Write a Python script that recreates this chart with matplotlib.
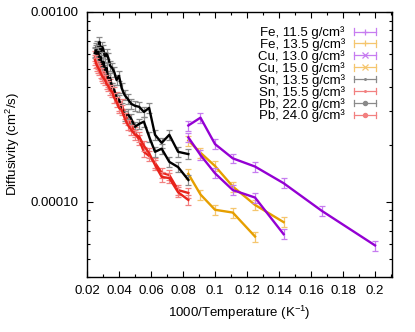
"""
Diffusivity vs inverse temperature for Fe, Cu, Sn and Pb at several densities.
Thick lines are the fitted values, the pale bars are the uncertainties.
"""

import numpy as np
import matplotlib
matplotlib.use("Agg")
import matplotlib.pyplot as plt
from matplotlib.lines import Line2D
from matplotlib.legend_handler import HandlerBase
from matplotlib.ticker import FixedLocator, LogLocator, FormatStrFormatter, NullFormatter

plt.rcParams["font.family"] = ["Liberation Sans", "DejaVu Sans"]
plt.rcParams["mathtext.fontset"] = "custom"
plt.rcParams["mathtext.rm"] = "Liberation Sans"
plt.rcParams["mathtext.it"] = "Liberation Sans:italic"
plt.rcParams["mathtext.default"] = "regular"
plt.rcParams["font.size"] = 9.5

# temperatures in K, diffusivities in cm^2/s
T_FE_115 = [12000, 11000, 10000, 9000, 8000, 7000, 6000, 5000]
D_FE_115 = [2.52e-4, 2.77e-4, 2.01e-4, 1.69e-4, 1.53e-4, 1.25e-4, 8.94e-5, 5.87e-5]

T_FE_135 = [12000, 11000, 10000, 9000, 8000, 7000]
D_FE_135 = [2.10e-4, 1.81e-4, 1.54e-4, 1.20e-4, 9.6e-5, 7.79e-5]

T_CU_130 = [12000, 11000, 10000, 9000, 8000, 7000]
D_CU_130 = [2.18e-4, 1.76e-4, 1.41e-4, 1.15e-4, 1.05e-4, 6.73e-5]

T_CU_150 = [12000, 11000, 10000, 9000, 8000]
D_CU_150 = [1.40e-4, 1.09e-4, 9.05e-5, 8.75e-5, 6.54e-5]

# Sn and Pb share the same temperature grid
T_HOT = [12000, 13000, 14000, 15000, 16000, 17000, 18000, 19000, 20000, 21000,
         22000, 23000, 24000, 25000, 26000, 27000, 28000, 29000, 30000, 31000,
         32000, 33000, 34000, 35000, 36000, 37000, 38000, 39000, 40000]
D_SN_135 = [1.78e-4, 1.83e-4, 2.25e-4, 2.04e-4, 2.25e-4, 3.12e-4, 2.97e-4, 3.16e-4, 3.20e-4, 3.28e-4,
            3.48e-4, 3.65e-4, 3.97e-4, 4.60e-4, 4.38e-4, 4.82e-4, 5.07e-4, 5.20e-4, 5.72e-4, 6.00e-4,
            5.79e-4, 6.30e-4, 6.54e-4, 6.07e-4, 6.95e-4, 6.30e-4, 6.62e-4, 6.46e-4, 6.15e-4]
D_SN_155 = [1.11e-4, 1.15e-4, 1.38e-4, 1.42e-4, 1.60e-4, 1.74e-4, 1.83e-4, 2.11e-4, 2.33e-4, 2.51e-4,
            2.70e-4, 2.90e-4, 3.28e-4, 3.20e-4, 3.56e-4, 3.79e-4, 3.97e-4, 4.17e-4, 4.27e-4, 4.49e-4,
            4.60e-4, 4.82e-4, 4.71e-4, 5.13e-4, 5.07e-4, 5.32e-4, 5.45e-4, 5.72e-4, 5.86e-4]
D_PB_220 = [1.30e-4, 1.52e-4, 1.62e-4, 1.90e-4, 1.83e-4, 2.20e-4, 2.64e-4, 2.57e-4, 2.48e-4, 2.73e-4,
            2.90e-4, 2.83e-4, 3.12e-4, 3.44e-4, 3.52e-4, 3.88e-4, 3.97e-4, 4.49e-4, 4.38e-4, 5.07e-4,
            4.94e-4, 5.45e-4, 5.20e-4, 5.79e-4, 5.58e-4, 6.15e-4, 5.93e-4, 6.30e-4, 6.07e-4]
D_PB_240 = [1.02e-4, 1.12e-4, 1.33e-4, 1.35e-4, 1.56e-4, 1.80e-4, 1.97e-4, 2.20e-4, 2.25e-4, 2.39e-4,
            2.54e-4, 2.76e-4, 3.04e-4, 3.12e-4, 3.36e-4, 3.52e-4, 3.79e-4, 3.88e-4, 4.07e-4, 4.17e-4,
            4.38e-4, 4.49e-4, 4.60e-4, 4.76e-4, 4.94e-4, 5.07e-4, 5.20e-4, 5.38e-4, 5.58e-4]

REL_ERR = 0.06  # roughly constant relative uncertainty on every point

LABELS = ["Fe, 11.5 g/cm³", "Fe, 13.5 g/cm³", "Cu, 13.0 g/cm³", "Cu, 15.0 g/cm³",
          "Sn, 13.5 g/cm³", "Sn, 15.5 g/cm³", "Pb, 22.0 g/cm³", "Pb, 24.0 g/cm³"]

PURPLE, PURPLE_L = "#9400d3", "#c77cf0"
ORANGE, ORANGE_L = "#e69f00", "#f5c66e"
BLACK, GRAY = "#000000", "#8a8a8a"
RED, RED_L = "#e8231b", "#f28080"


class ErrKeyHandler(HandlerBase):
    """gnuplot-style key sample: horizontal bar with end caps and a point."""

    def create_artists(self, legend, orig_handle, xdescent, ydescent,
                       width, height, fontsize, trans):
        y = height / 2.0 - ydescent
        x0, x1 = -xdescent, width - xdescent
        h = 0.25 * fontsize
        c = orig_handle.get_color()
        arts = [Line2D([x0, x1], [y, y], color=c, lw=0.9),
                Line2D([x0, x0], [y - h, y + h], color=c, lw=0.9),
                Line2D([x1, x1], [y - h, y + h], color=c, lw=0.9)]
        m = orig_handle.get_marker()
        if m not in (None, "None", "none", ""):
            arts.append(Line2D([(x0 + x1) / 2], [y], marker=m, color=c, ls="none",
                               ms=orig_handle.get_markersize(), mew=0.9))
        for a in arts:
            a.set_transform(trans)
        return arts


series = [
    (T_FE_115, D_FE_115, PURPLE, PURPLE_L, "+", 4),
    (T_FE_135, D_FE_135, ORANGE, ORANGE_L, "+", 4),
    (T_CU_130, D_CU_130, PURPLE, PURPLE_L, "x", 4),
    (T_CU_150, D_CU_150, ORANGE, ORANGE_L, "x", 4),
    (T_HOT, D_SN_135, BLACK, GRAY, ".", 2.5),
    (T_HOT, D_SN_155, RED, RED_L, ".", 2.5),
    (T_HOT, D_PB_220, BLACK, GRAY, "o", 3),
    (T_HOT, D_PB_240, RED, RED_L, "o", 3),
]

fig = plt.figure(figsize=(4.15, 3.32), dpi=100)
ax = fig.add_axes([87 / 415, 1 - 277 / 332, 305 / 415, 265 / 332])

proxies = []
for temps, vals, dark, light, mk, ms in series:
    x = 1000.0 / np.array(temps)
    d = np.array(vals)
    ax.errorbar(x, d, yerr=d * REL_ERR, fmt="none", ecolor=light,
                elinewidth=0.9, capsize=2.2, capthick=0.9)
    ax.plot(x, d, color=dark, lw=1.7)
    proxies.append(Line2D([], [], color=light, marker=mk, ms=ms))

ax.set_yscale("log")
ax.set_xlim(0.02, 0.2106)
ax.set_ylim(4.0e-5, 1.0e-3)

ax.xaxis.set_major_locator(FixedLocator(np.arange(0.02, 0.201, 0.02)))
ax.xaxis.set_minor_locator(FixedLocator(np.arange(0.03, 0.211, 0.02)))
ax.xaxis.set_major_formatter(FormatStrFormatter("%g"))
ax.yaxis.set_major_locator(LogLocator(base=10, numticks=10))
ax.yaxis.set_minor_locator(LogLocator(base=10, subs=np.arange(2, 10), numticks=10))
ax.yaxis.set_major_formatter(FormatStrFormatter("%.5f"))
ax.yaxis.set_minor_formatter(NullFormatter())

ax.tick_params(which="both", direction="in", top=True, right=True, width=0.8)
ax.tick_params(which="major", length=4, pad=6)
ax.tick_params(which="minor", length=2.5)
for sp in ax.spines.values():
    sp.set_linewidth(1.0)

ax.set_xlabel("1000/Temperature (K$^{-1}$)", labelpad=5)
ax.set_ylabel("Diffusivity (cm$^2$/s)", labelpad=6)

ax.legend(proxies, LABELS, handler_map={Line2D: ErrKeyHandler()},
          loc="upper right", bbox_to_anchor=(0.947, 0.946), frameon=False,
          markerfirst=False, handlelength=1.65, handletextpad=0.7,
          labelspacing=-0.07, borderpad=0, borderaxespad=0, fontsize=9.5)

fig.savefig("out.png", dpi=100)
